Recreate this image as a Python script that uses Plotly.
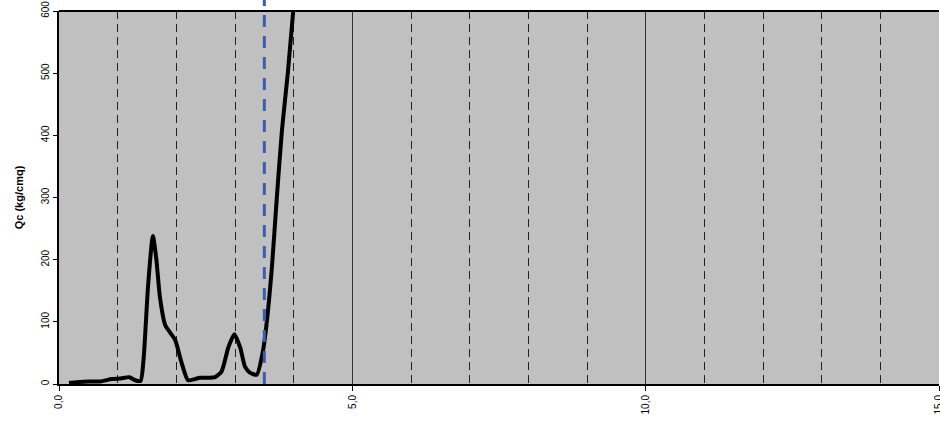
import plotly.graph_objects as go

depth = [0.17, 0.3, 0.5, 0.7, 0.9, 1.05, 1.2, 1.3, 1.39, 1.44, 1.52, 1.60, 1.66, 1.72, 1.81, 1.90, 1.98, 2.09, 2.20, 2.32, 2.40, 2.55, 2.66, 2.77, 2.89, 2.99, 3.09, 3.17, 3.26, 3.37, 3.48, 3.54, 3.63, 3.71, 3.80, 3.90, 4.02]
qc = [2, 3, 4, 4, 8, 9, 11, 6, 5, 38, 160, 238, 200, 140, 95, 82, 71, 34, 6, 8, 10, 10, 11, 20, 60, 80, 58, 28, 18, 15, 55, 98, 189, 296, 408, 500, 630]

limit_x = 3.5
x_ticks = [0, 5, 10, 15]
y_ticks = [0, 100, 200, 300, 400, 500, 600]

fig = go.Figure()
fig.add_trace(go.Scatter(x=depth, y=qc, mode="lines",
                         line=dict(color="black", width=4, shape="spline", smoothing=0.6),
                         showlegend=False, hoverinfo="skip"))

fig.add_shape(type="line", xref="x", yref="paper", x0=limit_x, x1=limit_x, y0=0, y1=1.03,
              line=dict(color="#3c5cb4", width=3, dash="12px,9px"))

fig.update_layout(
    width=940, height=421,
    margin=dict(l=59, r=1, t=11, b=37),
    paper_bgcolor="white", plot_bgcolor="#c0c0c0",
    separators=",.",
    font=dict(family="Liberation Sans, Arial, sans-serif", size=10, color="black"),
    xaxis=dict(range=[0, 15], tickvals=x_ticks, tickformat=".1f", tickangle=-90,
               automargin=False, ticklabeloverflow="allow",
               showgrid=True, gridcolor="#333333", gridwidth=1,
               minor=dict(dtick=1, tick0=0, showgrid=True, gridcolor="#222222", gridwidth=1,
                          griddash="8px,5px", ticks=""),
               ticks="outside", ticklen=5, tickcolor="black",
               showline=True, linecolor="black", linewidth=2, mirror=False,
               zeroline=False, tickfont=dict(size=10)),
    yaxis=dict(range=[0, 600], tickvals=y_ticks, tickangle=-90, showgrid=False,
               automargin=False,
               ticks="outside", ticklen=4, tickcolor="black",
               showline=True, linecolor="black", linewidth=2, zeroline=False,
               title=dict(text="<b>Qc (kg/cmq)</b>", font=dict(size=11), standoff=14),
               tickfont=dict(size=10)),
)
fig.add_shape(type="line", xref="paper", yref="paper", x0=0, x1=1, y0=1, y1=1,
              line=dict(color="black", width=2))

fig.write_html("out.html", config={"displayModeBar": False},
               post_script="document.body.style.margin='0';")
